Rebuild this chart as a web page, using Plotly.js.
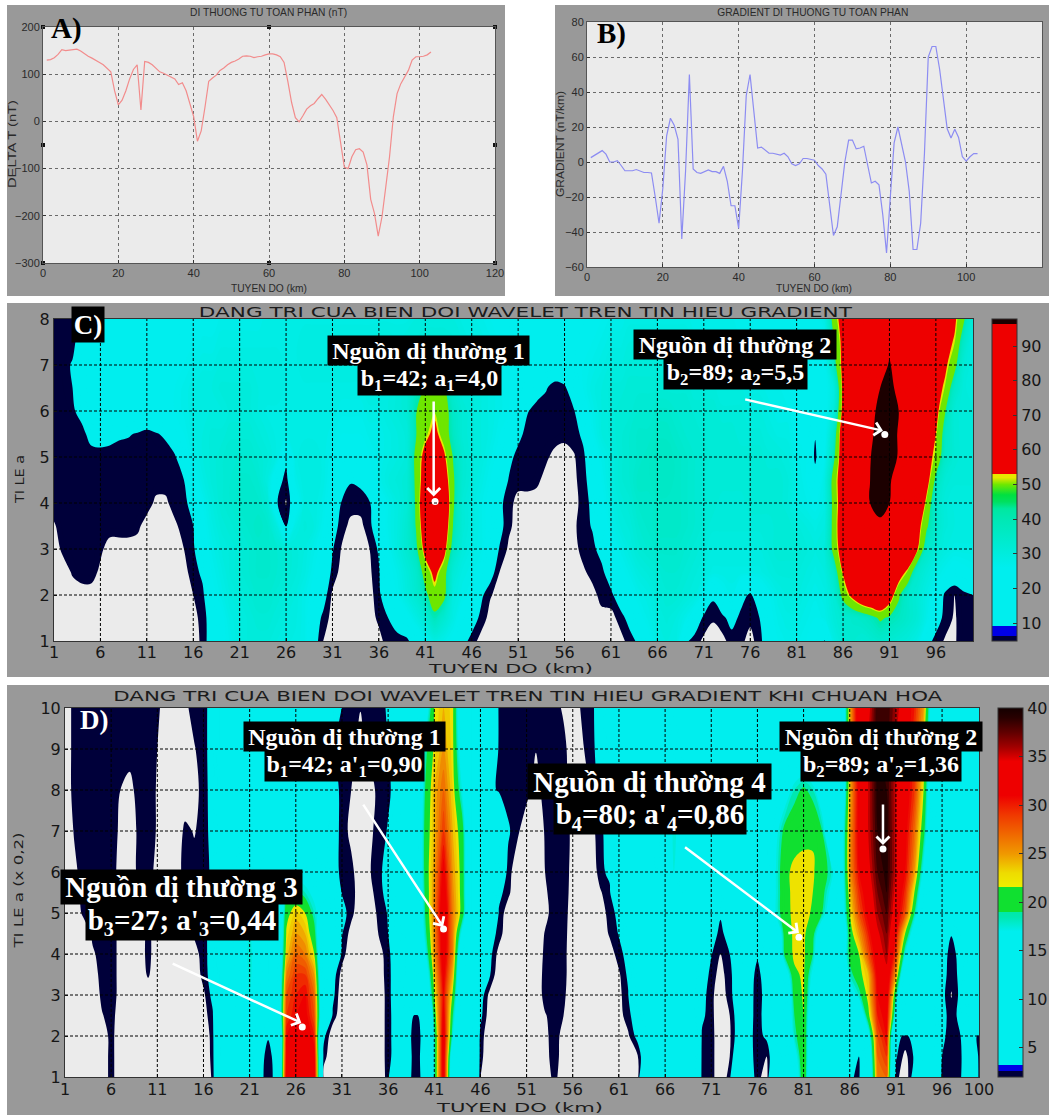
<!DOCTYPE html>
<html><head><meta charset="utf-8">
<script src="https://cdn.plot.ly/plotly-3.0.1.min.js"></script>
<style>html,body{margin:0;padding:0;background:#fff}#g{width:1049px;height:1115px}</style></head>
<body><div id="g"></div>
<script>
const W=1049,H=1115;
// Panel A
const ax=[1,2,3,4,5,6,7,8,9,10,11,12,13,14,15,16,17,18,19,20,21,22,23,24,25,26,27,28,29,30,31,32,33,34,35,36,37,38,39,40,41,42,43,44,45,46,47,48,49,50,51,52,53,54,55,56,57,58,59,60,61,62,63,64,65,66,67,68,69,70,71,72,73,74,75,76,77,78,79,80,81,82,83,84,85,86,87,88,89,90,91,92,93,94,95,96,97,98,99,100,101,102,103];
const deltaT=[130,131,135,142,152,150,151,152,153,149,143,138,134,130,125,120,113,105,65,35,45,65,90,110,120,24,127,125,120,113,105,102,98,94,90,78,82,65,40,10,-42,-20,30,85,92,98,108,113,120,125,128,132,138,139,138,135,137,138,141,143,143,141,137,125,85,40,8,-1,12,26,33,38,48,57,47,35,23,8,-50,-97,-100,-75,-60,-58,-65,-92,-165,-195,-243,-202,-139,-75,9,59,80,95,108,130,137,137,138,141,147];
const gradient=[2.5,4,5,6.5,4.5,0,0,0.8,-2,-5,-5,-5,-4.3,-5,-6,-6,-6.3,-20,-35,-15,15,25,21,13,-44,-5,50,-4,-6,-6.5,-5.5,-4.5,-5.5,-5.5,-6.5,-2.5,-11,-25,-25,-38,-5,38,50,28,8,8.5,7,5,5,4.5,4,5,3,-1,-2,-1,2,2,1.5,1,-2,-4,-7,-25,-42,-37,-20,0,12.5,12.5,7.5,8,9,-2,-12,-11,-13,-30,-52,-20,11,20,10,0,-17,-50,-50,-35,5,60,66,66,53,35,19,13.7,18.7,14,3,0.5,3,4.8,4.8];
const kmTicksC=[1,6,11,16,21,26,31,36,41,46,51,56,61,66,71,76,81,86,91,96];
const kmTicksD=[1,6,11,16,21,26,31,36,41,46,51,56,61,66,71,76,81,86,91,96,100];
const kmAxis=[];for(let i=1;i<=100;i++)kmAxis.push(i);
const yC=[1,1.5,2,2.5,3,3.5,4,4.5,5,5.5,6,6.5,7,7.5,8];
const zC=[
[3,3,3,3,3,3,3,3,3,3, 3,3,3,3,3,3,6,14,18,22, 26,28,28,28,26,25,24,22,13,5, 3,3,3,3,3,3.5,7,7,8,14, 20,25,22,18,12,7.5,3,3,3,3, 3,3,3,3,3,3,3,3,3,3, 3,3,7,11,18,24,26,26,11,7, 4,3,3.5,7,6,3.5,7,16,20,22, 22,20,18,9,24,30,32,30,32,34, 32,30,28,24,13,7,4.5,4.5,7,7],
[3,3,3,3,3,3,3,3,3,3, 3,3,3,3,3,3,7,13,18,24, 26,28,30,30,28,26,25,22,14,8, 3,3,3,3,3,6,9.5,14,18,24, 30,40,32,24,16,13,8,3,3,3, 3,3,3,3,3,3,3,3,3,3, 3,7,12,18,22,26,28,26,22,16, 8,5.5,8,12,8,6,9.5,18,22,24, 24,22,20,22,28,32,34,36,39,44, 41,38,34,30,22,14,7,4.5,7,7],
[3,3,3,3,3,3,3,3,3,3, 3,3,3,3,3,5,8,18,22,26, 28,30,32,32,30,28,26,22,18,13, 4,3,3,3,3,8,16,20,26,32, 40,49,46,26,22,20,11,5.5,3,3, 3,3,3,3,3,3,3,3,3,7, 8,14,18,22,24,28,30,30,28,26, 20,11,18,22,12,8.5,14,20,24,26, 26,24,22,24,30,46,56,65,70,72, 60,44,34,30,24,18,8,5,8,9.5],
[3,3,5.5,7,7,4,3,3,3,3, 3,3,3,3,3.5,7,11,20,24,28, 30,32,34,34,32,30,28,25,20,16, 8,3,3,3,4,9,18,22,28,34, 47,56,47,30,24,22,18,13,5,3, 3,3,3,3,3,3,3,4,7,8, 14,18,22,26,28,30,32,32,30,28, 26,24,24,24,24,24,24,26,28,28, 28,26,24,26,36,54,65,70,72,74, 72,60,50,34,28,24,20,16,18,20],
[3,6,7,7,7,6,3,3,3,3, 3,3,3,3,5,8.5,16,22,26,28, 30,32,34,34,32,30,28,26,22,18, 10,4.5,3,3,5,10.5,20,26,32,40, 57,65,57,38,28,24,22,16,9,4, 3,3,3,3,3,3,3,7,8,12, 18,22,26,30,32,34,34,34,32,30, 28,26,26,26,26,26,26,28,30,30, 30,28,26,28,46,60,68,72,75,78, 78,75,70,54,36,30,26,24,24,24],
[4.5,7,7,7,7,7,7,7,7,6, 3,3,3,4,7,9.5,18,24,28,30, 32,34,36,34,26,9,24,28,26,20, 13,7,3.5,3.5,8,15,22,26,32,43, 62,72,62,42,30,26,22,18,12,6, 3,3,3,3,3,3,4,7.5,10,16, 22,26,28,32,34,36,36,36,34,32, 30,28,28,28,28,28,28,28,30,30, 28,26,24,26,47,62,70,74,82,95, 80,76,70,58,44,34,28,26,26,26],
[7,7,7,7,7,7,7,7,7,7, 7,4,4,7,7,14,20,26,30,32, 34,34,34,30,10,4.5,16,26,26,22, 16,9,7,7,9,16,22,26,30,44, 65,75,65,44,30,26,22,18,11,7, 3,3,3,3,3,3,3,7,11,18, 24,28,30,34,34,36,36,36,34,32, 30,30,28,28,28,30,30,30,30,28, 24,22,20,24,47,60,70,86,98,99, 96.5,85,76,68,50,34,28,26,26,26],
[7,7,7,7,7,7,7,7,7,7, 7,7,7,7,9.5,18,24,28,30,32, 34,34,32,26,14,7,22,26,26,24, 18,14,10,11,18,22,26,28,30,45, 60,72,60,44,32,28,24,20,16,9, 7,7,6,3.5,3,3,3.5,8,12,20, 26,30,32,36,36,38,38,36,34,32, 30,30,30,30,30,30,30,30,30,28, 24,20,13,24,48,60,68,80,98,99, 99,86,78,70,58,40,30,28,28,28],
[7,7,7,7,7,7,7,7,7,7, 7,7,7,8.5,16,22,26,28,30,32, 32,32,30,28,24,12,24,26,26,24, 20,18,18,18,20,22,24,26,28,46, 57,70,55,42,32,28,26,22,18,12, 7,7,7,5.8,3.5,3.5,4.5,8,16,22, 26,30,32,34,36,38,38,36,34,32, 32,30,30,30,30,30,30,28,28,26, 22,20,8,20,40,62,68,76,96.5,99, 99,96,80,72,58,50,36,30,28,28],
[7,7,7,7.5,12,13,12,10.5,10,9, 8,9,10.5,16,20,24,26,28,28,30, 30,30,28,26,24,24,24,24,24,24, 22,20,20,20,22,22,24,26,28,42, 50,56,48,38,30,28,26,24,20,16, 12,7,7,7,7,6,7,11,20,26, 28,30,32,34,34,36,36,34,32,32, 30,30,30,30,28,28,28,26,24,24, 20,18,10,18,36,62,68,76,95.5,99, 99,96,82,74,68,53,38,30,28,28],
[7,7,8.5,12,16,18,18,18,18,18, 16,18,18,20,22,24,26,26,26,28, 28,28,26,24,24,24,24,24,24,24, 24,22,22,22,24,24,26,28,30,42, 49,51,49,36,30,28,26,24,22,20, 16,10,7,7,7,7,9,16,22,26, 28,30,30,32,32,34,34,32,32,30, 30,30,28,28,28,26,26,24,22,22, 20,18,16,18,28,57,66,74,94,99, 99,96.5,82,76,68,57,43,30,28,28],
[7,8,9.5,16,18,18,18,18,18,18, 18,18,20,20,22,24,26,26,28,28, 28,28,26,26,26,24,24,24,24,24, 24,24,24,24,26,26,26,28,30,38, 43,46,43,32,28,28,26,24,22,20, 18,16,13,10,7,8.5,14,20,24,26, 28,28,30,30,30,30,30,30,30,28, 28,28,26,26,26,24,24,22,22,20, 20,18,18,18,26,56,64,72,82,96.5, 99,94,82,74,66,58,51,36,28,26],
[7,8,10,15,18,18,18,18,18,18, 18,18,18,20,20,22,24,24,26,26, 26,26,26,26,26,24,24,26,26,26, 26,26,26,26,28,28,28,28,30,32, 35,38,35,30,28,26,26,24,22,20, 20,18,16,16,16,16,18,20,22,24, 26,26,28,28,28,28,28,28,26,26, 26,26,26,24,24,22,22,22,20,20, 20,18,18,18,38,57,64,72,80,88, 98,88,78,72,66,60,55,46,30,26],
[7,7,8,13,18,18,18,18,18,18, 18,18,18,18,20,20,22,22,24,24, 24,24,24,24,24,24,24,26,26,26, 26,26,26,26,26,28,28,26,28,28, 30,30,30,28,26,24,24,22,20,20, 18,16,16,16,16,18,18,20,20,22, 24,24,26,26,26,26,26,26,26,24, 24,24,24,22,22,22,20,20,20,20, 18,18,18,18,42,57,62,70,78,84, 92,84,76,70,66,60,57,52,36,24],
[7,7,7,11,16,18,18,18,18,18, 18,18,18,18,18,20,20,20,22,22, 22,22,22,24,24,24,24,24,24,24, 24,24,24,24,24,24,24,24,24,26, 26,26,26,26,24,24,22,20,20,18, 18,16,16,16,18,18,18,18,20,20, 22,22,24,24,24,24,24,24,24,22, 22,22,22,22,20,20,20,20,18,18, 18,18,18,24,48,58,62,68,74,80, 84,80,74,68,64,60,58,55,44,28]
];
const yD=[1,1.5,2,2.5,3,3.5,4,4.5,5,5.5,6,7,8,9,10];
const zD=[
[1,1,1,1,1,2.5,1,1,1,1, 1,1,1,1,1,1,2.2,10,10,10, 10,3.5,2.5,3.5,33,35,35,33,1.5,1, 1,1,1,1,1,2.5,10,3.5,2.5,3.5, 18,33,10,10,10,2,1,1,1,1, 1,1,1,2.5,1,1,1,1,1,1, 1,1,1.2,10,10,10,10,10,10,2.5, 2.5,1,2.5,10,4,2.5,1.2,10,10,12, 22,10,10,10,10,3.4,2.5,11,26,27, 2.5,1,4,10,10,2.5,2.5,2.5,10,2.5],
[1,1,1,1,1,2.5,1,1,1,1, 1,1,1,1,1,1,2.4,10,10,10, 10,3.3,2.8,3.3,32,34,34,32,2.5,1, 1,1,1,1,1,2.6,3.8,3.5,2.6,3.5, 18,33,12,10,9,2.4,1,1,1,1, 1,1,1.6,2.5,1.5,1,1,1,1,1, 1,1,1.8,5,10,10,10,10,10,2.6, 2.5,1,2,5,3.6,2.5,2,5,10,15, 22,11,10,10,10,10,3,12,27,29, 3.2,1.6,3.2,10,9,3,2.5,2.5,7,2.6],
[1,1,1,1,1,2.5,1,1,1,1, 1,1,1,1,1,1,2.5,10,10,10, 10,3.4,3.05,3.4,31,33,34,30,3.5,1, 1,1,1,1,1,2.6,3.8,3.4,2.6,3.4, 18,33,17,10,8,2.6,1,1,1,1, 1,1,1.7,2.5,1.6,1,1,1,1,1, 1,1.8,3.5,10,10,10,10,10,9,2.8, 2.5,1,1.8,4,3.5,2.5,3.3,10,10,18, 22,11,10,10,10,10,10,15,28,31, 3.3,2.85,3.3,10,9,3.3,2.5,3,4,2.7],
[1,1,1,1,1.9,2.5,1.3,1,1,1, 1,1,1,1,1,1.4,2.8,10,10,10, 12,10,10,10,29,31,32,28,10,2.7, 1,1,1,1,1,2.6,3.8,3.5,2.85,3.5, 20,32,19,10,10,3.4,1.3,1,1,1, 1,1,1.9,2.5,2,1,1,1,1,1, 1.5,2.6,4,10,10,10,10,10,10,3.3, 2.4,1,2,4,3.5,2.6,3.5,10,12,19, 22,12,10,10,10,10,12,21,30,32, 15,10,10,10,10,3.4,2.6,3.3,10,10],
[1,1,1,1,2.3,2.7,1.5,1,1,1, 1,1,1,1,1,1.7,3.5,10,10,12, 17.5,12,10,10,28,30,31,27,10,3.5, 1,1,1,1,1,2.6,4,10,10,10, 22,31,21.5,10,10,3.8,1.6,1,1,1, 1,1,2.5,2.5,2.3,1,1,1,1,1, 1.6,2.9,10,10,10,10,10,10,10,3.5, 2.4,1,2.7,3.8,3.4,2.7,3.3,10,10,20.5, 22.3,14,10,10,10,14,18,23,31,33, 19,10,10,10,10,3.5,1.9,3.4,10,10],
[1,1,1,1.3,2.5,2.7,1.5,1,1,2.2, 1,1,1,1,1,2.5,3.6,10,10,12, 18,13,10,10,26,29,29,25,10,3.8, 1.5,1,1,1,1.3,2.6,4,10,10,13, 23.5,32,24,10,10,10,3.2,1,1,1, 1,1,2.5,2.5,2.4,1.2,1,1,1,1, 1.8,3.3,10,10,10,10,10,10,10,4, 2.6,1.5,2.7,4,3.4,2.8,3.4,10,14,21.5, 22.4,16,10,10,10,18,21,24,32,34, 25,11,10,10,10,3.5,2.5,3.3,10,10],
[1,1,1,1.8,2.5,2.7,1.5,1,1,2.5, 1,1,1,1,1.4,2.6,3.6,10,10,14, 18,14,10,10,23.5,27,26,22,10,8, 2.6,1,1,1,1.4,2.7,4,10,10,16, 25,33,26,11,10,10,3.5,1.5,1,1, 1,1,2.3,2.6,2.4,1.2,1,1,1,1.3, 2.6,3.5,10,10,10,10,10,10,10,10, 3.1,2,3,4,8,3.1,8,10,20,22.5, 22.5,19,10,10,12,20,22,28,33,36, 29,17,10,10,10,3.3,2.8,3.2,10,10],
[1,1,1,2.3,2.5,2.7,1.5,1,1,2.5, 1,1,1,1,2.2,2.6,3.6,10,10,14, 17.5,14,10,10,22.5,25,24,20,10,10, 3.1,1.5,1,1,2.1,3,4,10,10,18, 25.5,33.5,26,16,10,10,3.8,2.6,1,1, 1,1,2.1,2.6,2.5,1.2,1,1,1,2.2, 3.1,10,10,10,10,10,10,10,10,10, 3.4,2.8,3.4,10,10,10,10,12,20.5,22.5, 22.5,20,13,11,10,20.5,25,30,34.5,37, 31,22,14,10,10,10,3.03,10,10,10],
[1,1,2.3,2.5,2.5,2.7,1.5,1,1.6,2.5, 1,1,1,1,2.5,2.6,3.4,10,10,15, 17.5,15,11,10,21,23.5,22,18,14,10, 3.6,2.4,1,1,2.4,3.1,10,10,10,19, 26,34,26,21,10,10,10,2.8,1.3,1, 1,1,1.6,2.6,2.5,1.4,1,1,1.3,2.5, 3.4,10,10,10,10,10,10,10,10,10, 10,3.1,10,10,10,10,10,17,21.3,22.5, 22.5,21.8,19,14,13,22,28,32,36,38, 33,28,19,11,10,10,10,10,10,10],
[1,1.3,2.5,2.5,2.5,2.6,1.4,1,1.7,2.5, 1.3,1,1,2.3,2.5,2.6,3.4,10,10,14, 17,14,11,10,18,19.5,18,16,12,10, 2.9,2.5,1.3,1.6,2.6,3.5,10,10,10,19.5, 25.5,33,25.5,21,10,10,10,3.5,2.3,1, 1,1,1.8,2.6,2.6,1.5,1,1,1.9,2.6, 10,10,10,10,10,10,10,10,10,10, 10,10,10,10,10,10,10,17,21.4,22.5, 22.7,22,20,16,13,23.5,29.5,33,37,39, 34,29.5,22,13,10,10,10,10,10,10],
[1,1.7,2.5,2.5,2.5,2.6,1.5,1,2.4,2.5, 1.6,1,1.3,2.5,2.5,2.5,3.3,10,10,14, 17.3,14,10,10,11,15,15,12,10,4, 2.5,2.3,1.3,1.9,2.7,3.6,10,10,10,20, 25,32,25,21,10,10,10,5,2.6,1, 1,1,2,2.6,2.6,1.6,1,1.2,2.5,3.5, 10,10,10,10,10,14,17.3,14,10,10, 10,10,10,10,10,10,10,17,21.5,22.5, 22.8,22.3,20.5,18,13,25,31,34,38,39.5, 35,31,25,16,10,10,10,10,10,10],
[1,2.1,2.5,2.5,2.5,2.5,1.8,1.2,2.3,2.5, 1.9,1,1,2.3,1.9,2.5,3.5,10,10,10, 12,10,10,10,10,10,10,10,10,4, 2.5,1.7,1,1.7,2.5,3.1,10,10,10,20, 24,29,24,20.5,10,10,10,10,3.2,2.3, 1,1.2,2.1,2.6,2.6,1.7,1,1.6,2.6,4, 10,10,10,10,10,15,17.5,15,10,10, 10,10,10,10,10,10,10,16,20,21, 21.3,21.7,19,12,13,25,32,35,39,39.5, 35,32,27,20,10,10,10,10,10,10],
[1,2.5,2.5,2.5,2.5,2.5,2,1.6,2.5,2.5, 1.9,1,1,1,1.5,2.5,3.6,10,10,10, 10,10,10,10,10,10,10,10,10,4, 2.5,2,1,1.3,2.5,2.8,3.5,10,10,19, 24,27,23,17,10,10,4,2.6,2.5,2.5, 2.5,1.5,2.5,2.5,2.4,1.4,1,2.2,3.4,10, 10,10,10,10,10,14,17.3,14,10,10, 10,10,10,10,10,10,10,12,15,18, 19.5,18,14,11,10,24,32,35,39.5,39, 35,33,29,22,11,10,10,10,10,10],
[1,2.5,2.5,2.5,2.5,2.5,2.5,2.5,2.5,2.5, 2,1,1,1,1.9,2.6,3.6,10,10,10, 10,10,10,10,10,10,10,10,10,3.2, 2.5,2.5,1.5,2.5,2.6,3,10,10,10,18, 22.5,25,22.5,14,10,10,10,2.5,2.5,2.5, 2.5,2.05,2.5,2.5,2.4,1.2,1.8,2.7,3.5,10, 10,10,10,10,10,10,16,10,10,10, 10,10,10,10,10,10,10,10,10,12, 12,10,10,10,10,24,33,35,39,39, 35,33,29,23,12,10,10,10,10,10],
[1,2.5,2.5,2.5,2.5,2.5,2.5,2.5,2.5,2.5, 2.4,1,1,1.7,2.5,2.6,3.6,10,10,10, 10,10,10,10,10,10,10,10,10,10, 2.9,2.5,2.05,2.5,2.5,3.2,10,10,10,14, 22,24,22.5,12,10,10,10,2.6,2.5,2.5, 2.5,2.5,2.5,2.5,1.8,1.2,2.2,2.7,3.7,10, 10,10,10,10,10,10,10,10,10,10, 10,10,10,10,10,10,10,10,10,10, 10,10,10,10,10,24,34,34,39,39, 36,33,30,25,13,10,10,10,10,10]
];
[zC,zD].forEach((m,k)=>m.forEach((r,i)=>{if(r.length!==100)throw new Error('matrix '+k+' row '+i+' len '+r.length)}));

// a contour fill colorscale spans start-size/2 .. end+size/2
function scale(lo,hi,stops){return stops.map(s=>[Math.min(1,Math.max(0,(s[0]-lo)/(hi-lo))),s[1]]);}
const GRAY='#ebebeb',NAVY='#00003a',CY='#00eeee';
const csC=scale(4.25,98.75,[[4.25,GRAY],[5,GRAY],[5,NAVY],[9.5,NAVY],[9.5,CY],[20,CY],[38,'#00e8c4'],[42.5,'#00e8a8'],[42.5,'#6ee600'],[51.5,'#6ee600'],[51.5,'#e8e800'],[53,'#e8e800'],[53,'#ee0000'],[96.5,'#ee0000'],[96.5,'#1c0000'],[98.75,'#1c0000']]);
const csCbar=scale(4.8,97.8,[[4.8,NAVY],[6.3,NAVY],[6.3,'#0000e6'],[9.2,'#0000e6'],[9.2,CY],[26,CY],[40,'#00e8b4'],[43,'#00e8a0'],[45,'#00e060'],[47,'#00e040'],[50,'#70e800'],[52,'#e8e800'],[53,'#e8e800'],[53,'#ee0000'],[96.5,'#ee0000'],[96.5,'#1c0000'],[97.8,'#1c0000']]);
const ptsD=[[3,CY],[17,CY],[18.5,'#00e8b0'],[19,'#00e8a8'],[19,'#10e030'],[21.6,'#10e030'],[21.6,'#eeee00'],[23,'#eedc00'],[25,'#f09800'],[27,'#f06800'],[29,'#f03800'],[31,'#ee0000'],[34.5,'#ee0000'],[36,'#a00000'],[37.5,'#600000'],[39,'#280000'],[40.5,'#140000']];
const csD=scale(1.5,40.5,[[1.5,GRAY],[2,GRAY],[2,NAVY],[3,NAVY]].concat(ptsD));
const csDbar=scale(2,40,[[2,NAVY],[2.6,NAVY],[2.6,'#0000e6'],[3.2,'#0000e6'],[3.2,CY]].concat(ptsD.slice(1)));

const px=v=>v/W, py=v=>1-v/H;
const dom=(l,r,t,b)=>({x:[l/W,r/W],y:[1-b/H,1-t/H]});
const dA=dom(43,495,27,263),dB=dom(587,1042,22,267),dC=dom(54,973,319,641),dD=dom(65,979,708,1077);

const SANS='"Liberation Sans",Arial,sans-serif',WIDE='"DejaVu Sans",Verdana,sans-serif',SERIF='"Liberation Serif","Times New Roman",serif';
const smallAxis=(d,range,ticks,anchor,ttl)=>({domain:d,range:range,anchor:anchor,tickvals:ticks,ticks:'inside',ticklen:3,tickcolor:'#333',showline:true,linecolor:'#555',linewidth:1,mirror:true,showgrid:true,gridcolor:'#6a6a6a',griddash:'dot',gridwidth:1,zeroline:false,tickfont:{family:SANS,size:11,color:'#2a2a2a'},title:{text:ttl,font:{family:SANS,size:11,color:'#2a2a2a'},standoff:2}});
const wideAxis=(d,range,ticks,anchor,ttl,sty)=>({domain:d,range:range,anchor:anchor,tickvals:ticks,ticks:'inside',ticklen:3,tickcolor:'#222',showline:true,linecolor:'#333',linewidth:1,mirror:true,showgrid:false,zeroline:false,ticklabelstandoff:sty,tickfont:{family:WIDE,size:16,color:'#161616'},title:{text:ttl,font:{family:WIDE,size:13,color:'#1c1c1c'},standoff:2}});

const colorbar=(l,r,t,b,ticks,font)=>({x:l/W,xanchor:'left',y:1-b/H,yanchor:'bottom',len:(b-t)/H,lenmode:'fraction',thickness:r-l,thicknessmode:'pixels',xpad:0,ypad:0,tickvals:ticks,ticks:'inside',ticklen:4,tickcolor:'#333',outlinecolor:'#333',outlinewidth:1,borderwidth:0,tickfont:{family:WIDE,size:font,color:'#161616'}});

const traces=[
 {type:'scatter',mode:'lines',x:ax,y:deltaT,xaxis:'x',yaxis:'y',line:{color:'#f28c8c',width:1.2},hoverinfo:'skip'},
 {type:'scatter',mode:'markers',x:[0,60,120,0,120,0,60,120],y:[200,200,200,-50,-50,-300,-300,-300],xaxis:'x',yaxis:'y',cliponaxis:false,marker:{symbol:'square',size:4,color:'#111'},hoverinfo:'skip'},
 {type:'scatter',mode:'lines',x:ax,y:gradient,xaxis:'x2',yaxis:'y2',line:{color:'#8c8cf2',width:1.2},hoverinfo:'skip'},
 {type:'contour',x:kmAxis,y:yC,z:zC,xaxis:'x3',yaxis:'y3',colorscale:csC,autocontour:false,contours:{coloring:'fill',showlines:false,start:5,end:98,size:1.5},line:{width:0},showscale:false,hoverinfo:'skip'},
 {type:'heatmap',x:[-50,-49],y:[-50,-49],z:[[4.8,97.8],[4.8,97.8]],xaxis:'x3',yaxis:'y3',colorscale:csCbar,zauto:false,zmin:4.8,zmax:97.8,hoverinfo:'skip',colorbar:colorbar(992,1017,319,641,[10,20,30,40,50,60,70,80,90],16)},
 {type:'contour',x:kmAxis,y:yD,z:zD,xaxis:'x4',yaxis:'y4',colorscale:csD,autocontour:false,contours:{coloring:'fill',showlines:false,start:2,end:40,size:1},line:{width:0},showscale:false,hoverinfo:'skip'},
 {type:'heatmap',x:[-50,-49],y:[-50,-49],z:[[2,40],[2,40]],xaxis:'x4',yaxis:'y4',colorscale:csDbar,zauto:false,zmin:2,zmax:40,hoverinfo:'skip',colorbar:colorbar(998,1023,708,1077,[5,10,15,20,25,30,35,40],16)},
 {type:'scatter',mode:'markers',x:[42.05,90.5],y:[4.03,5.49],xaxis:'x3',yaxis:'y3',marker:{color:'#fff',size:7},hoverinfo:'skip'},
 {type:'scatter',mode:'markers',x:[42,89.6,26.7,80.5],y:[4.61,6.56,2.22,4.41],xaxis:'x4',yaxis:'y4',marker:{color:'#fff',size:7},hoverinfo:'skip'}
];

const shapes=[];
// white strips between the grey panels (paper colour is the panel grey)
[[0,1049,0,5],[0,7,0,1115],[505,555,0,303],[0,1049,296,303],[0,1049,677,685]].forEach(p=>shapes.push({type:'rect',xref:'paper',yref:'paper',x0:px(p[0]),x1:px(p[1]),y0:py(p[3]),y1:py(p[2]),fillcolor:'#ffffff',line:{width:0},layer:'below'}));
function grid(xa,ya,xt,yt,xr,yr){
  const ln={color:'#000',width:1,dash:'3px,2px'};
  xt.filter(v=>v>xr[0]&&v<xr[1]).forEach(v=>shapes.push({type:'line',xref:xa,yref:ya,x0:v,x1:v,y0:yr[0],y1:yr[1],line:ln,layer:'above'}));
  yt.filter(v=>v>yr[0]&&v<yr[1]).forEach(v=>shapes.push({type:'line',xref:xa,yref:ya,x0:xr[0],x1:xr[1],y0:v,y1:v,line:ln,layer:'above'}));
}
const yTicksC=[1,2,3,4,5,6,7,8],yTicksD=[1,2,3,4,5,6,7,8,9,10];
grid('x3','y3',kmTicksC,yTicksC,[1,100],[1,8]);
grid('x4','y4',kmTicksD,yTicksD,[1,100],[1,10]);

const ann=[];
const T=(text,xc,yc,size,family,color)=>ann.push({xref:'paper',yref:'paper',x:px(xc),y:py(yc),xanchor:'center',yanchor:'middle',text:text,showarrow:false,font:{family:family,size:size,color:color}});
const TITLE_A='DI THUONG TU TOAN PHAN (nT)',TITLE_B='GRADIENT DI THUONG TU TOAN PHAN',TITLE_C='DANG TRI CUA BIEN DOI WAVELET TREN TIN HIEU GRADIENT',TITLE_D='DANG TRI CUA BIEN DOI WAVELET TREN TIN HIEU GRADIENT KHI CHUAN HOA';
T(TITLE_A,268,12,11,SANS,'#2a2a2a');
T(TITLE_B,813,12,11,SANS,'#2a2a2a');
T(TITLE_C,525,312,14,WIDE,'#1c1c1c');
T(TITLE_D,528,696,14,WIDE,'#1c1c1c');
T('<b>A)</b>',66,28,29,SERIF,'#000');
T('<b>B)</b>',611,33,29,SERIF,'#000');
T('<b>D)</b>',94,720,27,SERIF,'#fff');
const box=(text,l,r,t,b,size)=>ann.push({xref:'paper',yref:'paper',x:px((l+r)/2),y:py((t+b)/2),xanchor:'center',yanchor:'middle',width:r-l,height:b-t,bgcolor:'#000',borderpad:0,align:'center',valign:'middle',text:'<b>'+text+'</b>',showarrow:false,font:{family:SERIF,size:size,color:'#fff'}});
box('C)',72,104,307,342,27);
box('Nguồn dị thường 1',328,529,336,365,24);
box('b<sub>1</sub>=42; a<sub>1</sub>=4,0',358,501,365,395,24);
box('Nguồn dị thường 2',634,836,330,359,24);
box('b<sub>2</sub>=89; a<sub>2</sub>=5,5',664,807,359,389,24);
box('Nguồn dị thường 1',244,445,722,751,24);
box("b<sub>1</sub>=42; a'<sub>1</sub>=0,90",265,424,751,781,24);
box('Nguồn dị thường 2',780,982,722,751,24);
box("b<sub>2</sub>=89; a'<sub>2</sub>=1,36",801,961,751,781,24);
box('Nguồn dị thường 3',61,302,870,904,29);
box("b<sub>3</sub>=27; a'<sub>3</sub>=0,44",86,278,904,940,29);
box('Nguồn dị thường 4',528,771,764,799,29);
box("b<sub>4</sub>=80; a'<sub>4</sub>=0,86",554,746,799,834,29);
const arrow=(xa,ya,x0,y0,x1,y1)=>ann.push({xref:xa,yref:ya,axref:xa,ayref:ya,x:x1,y:y1,ax:x0,ay:y0,text:'',showarrow:true,arrowhead:4,arrowsize:1,arrowwidth:2.5,arrowcolor:'#fff'});
arrow('x3','y3',41.9,6.24,41.9,4.14);
arrow('x3','y3',75.3,6.26,90.3,5.57);
arrow('x4','y4',33.2,7.68,41.95,4.66);
arrow('x4','y4',89.6,7.68,89.6,6.66);
arrow('x4','y4',12.5,3.78,26.6,2.32);
arrow('x4','y4',68,6.63,80.5,4.51);

const layout={width:W,height:H,margin:{l:0,r:0,t:0,b:0,autoexpand:false},autosize:false,paper_bgcolor:'#999999',plot_bgcolor:GRAY,showlegend:false,hovermode:false,
 xaxis:smallAxis(dA.x,[0,120],[0,20,40,60,80,100,120],'y','TUYEN DO (km)'),
 yaxis:smallAxis(dA.y,[-300,200],[-300,-200,-100,0,100,200],'x','DELTA T (nT)'),
 xaxis2:smallAxis(dB.x,[0,120],[0,20,40,60,80,100,120],'y2','TUYEN DO (km)'),
 yaxis2:smallAxis(dB.y,[-60,80],[-60,-40,-20,0,20,40,60,80],'x2','GRADIENT (nT/km)'),
 xaxis3:wideAxis(dC.x,[1,100],kmTicksC,'y3','TUYEN DO (km)',-3),
 yaxis3:wideAxis(dC.y,[1,8],yTicksC,'x3','TI LE a',0),
 xaxis4:wideAxis(dD.x,[1,100],kmTicksD,'y4','TUYEN DO (km)',-2),
 yaxis4:wideAxis(dD.y,[1,10],yTicksD,'x4','TI LE a (x 0,2)',0),
 shapes:shapes,annotations:ann};
// stretched MATLAB-style text: [selector, centre x, centre y, length, rotated]
const placed=[['.xtitle',269,288,76,0],['.ytitle',13,144,88,1],['.x2title',814,288,76,0],['.y2title',561,144,106,1],['.x3title',511,668,164,0],['.y3title',20,479,48,1],['.x4title',520,1107,166,0],['.y4title',19,890,115,1]];
const stretched={};stretched[TITLE_A]=157;stretched[TITLE_B]=191;stretched[TITLE_C]=653;stretched[TITLE_D]=829;
Plotly.newPlot('g',traces,layout,{displayModeBar:false,staticPlot:true}).then(gd=>{
  placed.forEach(p=>{const t=gd.querySelector(p[0]);if(!t)return;
    t.setAttribute('x',p[1]);t.setAttribute('y',p[2]);t.setAttribute('text-anchor','middle');t.setAttribute('dominant-baseline','middle');
    t.setAttribute('transform',p[4]?('rotate(-90,'+p[1]+','+p[2]+')'):'');
    t.setAttribute('textLength',p[3]);t.setAttribute('lengthAdjust','spacingAndGlyphs');});
  gd.querySelectorAll('.annotation-text').forEach(t=>{const L=stretched[t.textContent];if(L){t.setAttribute('textLength',L);t.setAttribute('lengthAdjust','spacingAndGlyphs');}});
});
</script></body></html>
